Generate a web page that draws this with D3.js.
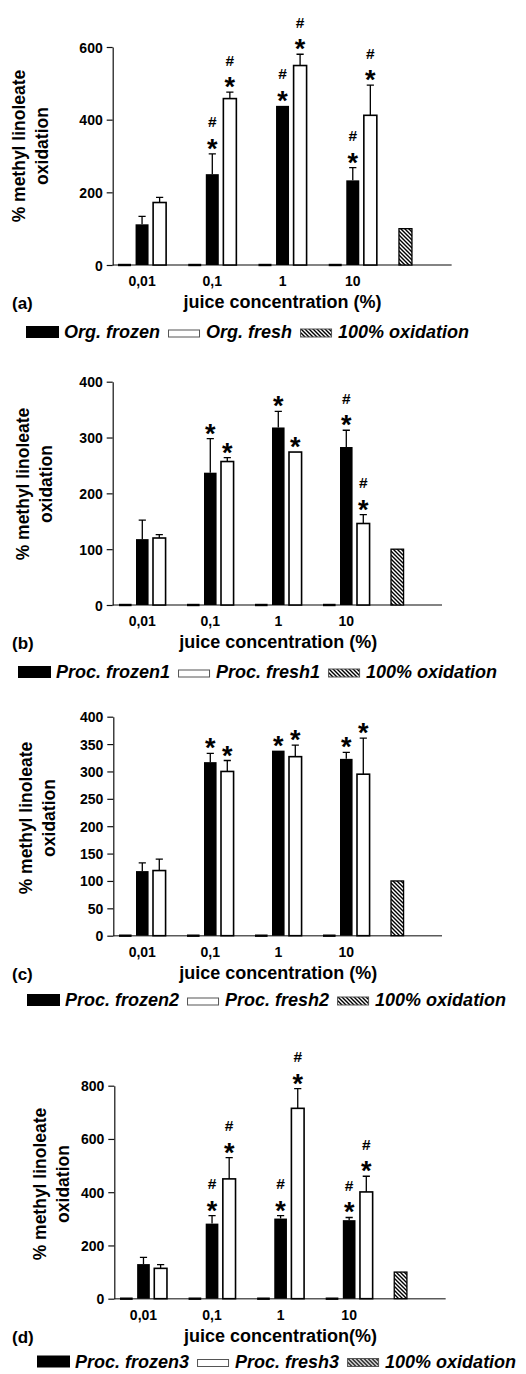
<!DOCTYPE html>
<html>
<head>
<meta charset="utf-8">
<script src="https://cdn.jsdelivr.net/npm/d3@7"></script>
<style>
  body { margin: 0; background: #fff; }
  svg { display: block; }
  text { font-family: "Liberation Sans", Arial, Helvetica, sans-serif; font-weight: bold; fill: #000; }
</style>
</head>
<body>
<svg id="chart" width="526" height="1374"></svg>
<script>
// categories
const concentrations = ["0,01", "0,1", "1", "10"];
const seriesKeys = ["blank", "frozen", "fresh", "gap"];
const blank = [0, 0, 0, 0];
const oxidation100 = 100;

// (a) organic juice
const orgFrozen = [112, 250, 438, 233];
const orgFrozenErr = [22, 56, 0, 35];
const orgFrozenSig = ["", "*#", "*#", "*#"];
const orgFresh = [172, 458, 549, 412];
const orgFreshErr = [14, 18, 31, 83];
const orgFreshSig = ["", "*#", "*#", "*#"];

// (b) processed juice 1
const procFrozen1 = [118, 237, 318, 283];
const procFrozen1Err = [34, 61, 29, 30];
const procFrozen1Sig = ["", "*", "*", "*#"];
const procFresh1 = [120, 257, 274, 146];
const procFresh1Err = [6, 7, 0, 16];
const procFresh1Sig = ["", "*", "*", "*#"];

// (c) processed juice 2
const procFrozen2 = [118, 317, 338, 323];
const procFrozen2Err = [15, 16, 0, 12];
const procFrozen2Sig = ["", "*", "*", "*"];
const procFresh2 = [119, 300, 327, 295];
const procFresh2Err = [21, 20, 21, 66];
const procFresh2Sig = ["", "*", "*", "*"];

// (d) processed juice 3
const procFrozen3 = [130, 282, 301, 295];
const procFrozen3Err = [25, 30, 11, 10];
const procFrozen3Sig = ["", "*#", "*#", "*#"];
const procFresh3 = [114, 450, 715, 401];
const procFresh3Err = [14, 80, 74, 59];
const procFresh3Sig = ["", "*#", "*#", "*#"];

// axis ticks
const ticksA = [0, 200, 400, 600];
const ticksB = [0, 100, 200, 300, 400];
const ticksC = [0, 50, 100, 150, 200, 250, 300, 350, 400];
const ticksD = [0, 200, 400, 600, 800];

const panels = [
  { label: "(a)", names: ["Org. frozen", "Org. fresh"], xTitle: "juice concentration (%)",
    frozen: orgFrozen, frozenErr: orgFrozenErr, frozenSig: orgFrozenSig,
    fresh: orgFresh, freshErr: orgFreshErr, freshSig: orgFreshSig, ticks: ticksA },
  { label: "(b)", names: ["Proc. frozen1", "Proc. fresh1"], xTitle: "juice concentration (%)",
    frozen: procFrozen1, frozenErr: procFrozen1Err, frozenSig: procFrozen1Sig,
    fresh: procFresh1, freshErr: procFresh1Err, freshSig: procFresh1Sig, ticks: ticksB },
  { label: "(c)", names: ["Proc. frozen2", "Proc. fresh2"], xTitle: "juice concentration (%)",
    frozen: procFrozen2, frozenErr: procFrozen2Err, frozenSig: procFrozen2Sig,
    fresh: procFresh2, freshErr: procFresh2Err, freshSig: procFresh2Sig, ticks: ticksC },
  { label: "(d)", names: ["Proc. frozen3", "Proc. fresh3"], xTitle: "juice concentration(%)",
    frozen: procFrozen3, frozenErr: procFrozen3Err, frozenSig: procFrozen3Sig,
    fresh: procFresh3, freshErr: procFresh3Err, freshSig: procFresh3Sig, ticks: ticksD }
];

// where each panel sits on the page
const layouts = [
  { top: 47, base: 265, axisX: 112.7, barStart: 118, slotW: 17.56, titleX: 25, titleY: 146, legendX: 26, legendY: 338 },
  { top: 381.7, base: 605, axisX: 112.7, barStart: 119, slotW: 17.0, titleX: 29, titleY: 484, legendX: 18, legendY: 678 },
  { top: 716.7, base: 935.7, axisX: 113.3, barStart: 119, slotW: 17.0, titleX: 32, titleY: 818, legendX: 27, legendY: 1006 },
  { top: 1085.7, base: 1298.7, axisX: 114.3, barStart: 120, slotW: 17.14, titleX: 46, titleY: 1184, legendX: 37, legendY: 1367.5 }
];

const svg = d3.select("#chart");

// hatch for the 100% oxidation bar
svg.append("defs")
  .append("pattern")
  .attr("id", "hatch")
  .attr("patternUnits", "userSpaceOnUse")
  .attr("width", 4)
  .attr("height", 4)
  .call((p) => {
    p.append("rect").attr("width", 4).attr("height", 4).attr("fill", "#fff");
    p.append("path")
      .attr("d", "M-1,-1 L5,5 M-1,3 L1,5 M3,-1 L5,1")
      .attr("stroke", "#000")
      .attr("stroke-width", 1.4);
  });

const pad = 0.26;

function drawPanel(p, L) {
  const g = svg.append("g");

  const y = d3.scaleLinear().domain([0, d3.max(p.ticks)]).range([L.base, L.top]);
  const groups = [...concentrations, "ctrl"];
  const r0 = L.barStart - (L.slotW * pad) / 2;
  const x = d3.scaleBand().domain(groups).range([r0, r0 + 20 * L.slotW]);
  const xs = d3.scaleBand().domain(seriesKeys).range([0, x.bandwidth()])
    .paddingInner(pad).paddingOuter(pad / 2);
  const bw = xs.bandwidth();

  // rows for bars
  const rows = [];
  concentrations.forEach((c, i) => {
    rows.push({ group: c, key: "blank", v: blank[i], err: 0, sig: "" });
    rows.push({ group: c, key: "frozen", v: p.frozen[i], err: p.frozenErr[i], sig: p.frozenSig[i] });
    rows.push({ group: c, key: "fresh", v: p.fresh[i], err: p.freshErr[i], sig: p.freshSig[i] });
  });
  rows.push({ group: "ctrl", key: "blank", v: oxidation100, err: 0, sig: "", hatch: true });

  // x axis line (grey)
  g.append("line")
    .attr("x1", L.axisX).attr("x2", r0 + 19.13 * L.slotW)
    .attr("y1", y(0)).attr("y2", y(0))
    .attr("stroke", "#5a5a5a").attr("stroke-width", 1.6);

  // y axis
  const yAxis = g.append("g")
    .attr("transform", `translate(${L.axisX},0)`)
    .call(d3.axisLeft(y).tickValues(p.ticks).tickSize(6).tickSizeOuter(0).tickPadding(4));
  yAxis.attr("font-family", null).attr("font-size", null);
  yAxis.select(".domain").attr("stroke", "#111").attr("stroke-width", 1.2);
  yAxis.selectAll(".tick line").attr("stroke", "#111").attr("stroke-width", 1.2);
  yAxis.selectAll(".tick text").attr("font-size", 14).attr("dy", "0.36em");

  const bx = (d) => x(d.group) + xs(d.key);

  // bars
  g.selectAll("rect.bar")
    .data(rows)
    .join("rect")
    .attr("class", "bar")
    .attr("x", (d) => bx(d))
    .attr("width", bw)
    .attr("y", (d) => (d.v === 0 ? y(0) - 1.2 : y(d.v)))
    .attr("height", (d) => (d.v === 0 ? 2.4 : y(0) - y(d.v)))
    .attr("fill", (d) => (d.hatch ? "url(#hatch)" : d.key === "fresh" ? "#fff" : "#000"))
    .attr("stroke", "#000")
    .attr("stroke-width", (d) => (d.key === "fresh" ? 1.6 : d.hatch ? 1.3 : 0));

  // error bars, upper half only
  const withErr = rows.filter((d) => d.err > 0);
  g.selectAll("path.err")
    .data(withErr)
    .join("path")
    .attr("class", "err")
    .attr("d", (d) => {
      const cx = bx(d) + bw / 2;
      const t = y(d.v + d.err);
      return `M${cx},${y(d.v)} V${t} M${cx - 3.6},${t} H${cx + 3.6}`;
    })
    .attr("fill", "none")
    .attr("stroke", "#000")
    .attr("stroke-width", 1.3);

  // significance marks
  const marked = rows.filter((d) => d.sig);
  const starC = (d) => y(d.v + d.err) - 11;
  g.selectAll("text.star")
    .data(marked.filter((d) => d.sig.includes("*")))
    .join("text")
    .attr("class", "star")
    .attr("x", (d) => bx(d) + bw / 2)
    .attr("y", (d) => starC(d) + 15)
    .attr("text-anchor", "middle")
    .attr("font-size", 27)
    .text("*");
  g.selectAll("text.hash")
    .data(marked.filter((d) => d.sig.includes("#")))
    .join("text")
    .attr("class", "hash")
    .attr("x", (d) => bx(d) + bw / 2)
    .attr("y", (d) => starC(d) - 21 + 5.5)
    .attr("text-anchor", "middle")
    .attr("font-size", 15.5)
    .text("#");

  // category labels under the frozen bars
  g.selectAll("text.cat")
    .data(concentrations)
    .join("text")
    .attr("class", "cat")
    .attr("x", (c) => x(c) + xs("frozen") + bw / 2)
    .attr("y", y(0) + 21)
    .attr("text-anchor", "middle")
    .attr("font-size", 14)
    .text((c) => c);

  // x title
  g.append("text")
    .attr("x", x("1") + xs("frozen") + bw / 2)
    .attr("y", y(0) + 43)
    .attr("text-anchor", "middle")
    .attr("font-size", 18)
    .text(p.xTitle);

  // panel letter
  g.append("text")
    .attr("x", 12)
    .attr("y", y(0) + 44)
    .attr("font-size", 17)
    .text(p.label);

  // y title, two lines
  ["% methyl linoleate", "oxidation"].forEach((t, i) => {
    g.append("text")
      .attr("transform", `translate(${L.titleX + i * 23},${L.titleY}) rotate(-90)`)
      .attr("text-anchor", "middle")
      .attr("font-size", 17.5)
      .text(t);
  });

  // legend
  const leg = g.append("g").attr("transform", `translate(${L.legendX},${L.legendY})`);
  const items = [
    { name: p.names[0], type: "frozen" },
    { name: p.names[1], type: "fresh" },
    { name: "100% oxidation", type: "hatch" }
  ];
  let cx = 0;
  items.forEach((it) => {
    if (it.type === "frozen") {
      leg.append("rect").attr("x", cx).attr("y", -12).attr("width", 33).attr("height", 12).attr("fill", "#000");
    } else if (it.type === "fresh") {
      leg.append("rect").attr("x", cx + 0.5).attr("y", -8).attr("width", 31).attr("height", 7)
        .attr("fill", "#fff").attr("stroke", "#555").attr("stroke-width", 1);
    } else {
      leg.append("rect").attr("x", cx + 0.5).attr("y", -9).attr("width", 31).attr("height", 8)
        .attr("fill", "url(#hatch)").attr("stroke", "#555").attr("stroke-width", 1);
    }
    const t = leg.append("text")
      .attr("x", cx + 38)
      .attr("y", 0)
      .attr("font-size", 18)
      .attr("font-style", "italic")
      .text(it.name);
    cx += 38 + t.node().getComputedTextLength() + 8;
  });
}

panels.forEach((p, i) => drawPanel(p, layouts[i]));
</script>
</body>
</html>
